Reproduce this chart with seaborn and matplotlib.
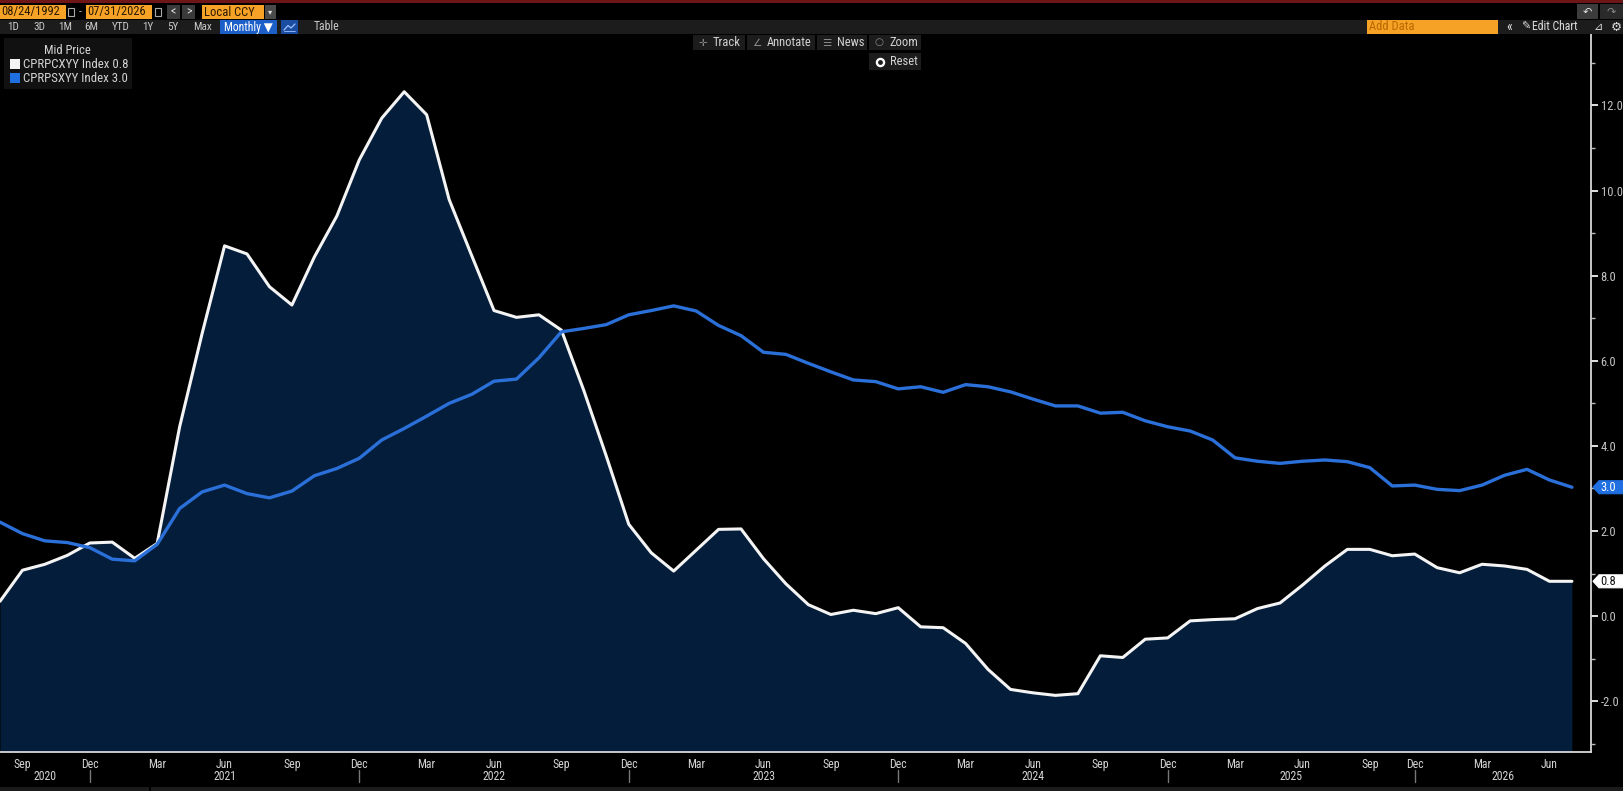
import matplotlib
matplotlib.use("Agg")
import numpy as np
import pandas as pd
import seaborn as sns
import matplotlib.pyplot as plt
import matplotlib.transforms as mtransforms
from matplotlib.patches import Rectangle, Polygon
from matplotlib import font_manager

# monthly prints Aug 2020 .. Jul 2026, Oct 2025 has no print
months = [d for d in pd.date_range("2020-08-01", "2026-07-01", freq="MS")
          if d != pd.Timestamp("2025-10-01")]

cprpcxyy = [0.35, 1.08, 1.22, 1.43, 1.72, 1.74, 1.36, 1.71, 4.45, 6.64,
            8.70, 8.51, 7.74, 7.31, 8.44, 9.40, 10.72, 11.70, 12.32, 11.78,
            9.79, 8.48, 7.18, 7.02, 7.08, 6.72, 5.30, 3.76, 2.16, 1.49,
            1.06, 1.55, 2.04, 2.05, 1.35, 0.76, 0.27, 0.04, 0.14, 0.06,
            0.20, -0.25, -0.27, -0.64, -1.25, -1.72, -1.80, -1.86, -1.82, -0.93,
            -0.97, -0.54, -0.51, -0.11, -0.08, -0.06, 0.18, 0.31, 0.73, 1.18,
            1.57, 1.57, 1.42, 1.46, 1.14, 1.02, 1.22, 1.18, 1.10, 0.82,
            0.82]

cprpsxyy = [2.21, 1.94, 1.77, 1.73, 1.61, 1.34, 1.30, 1.69, 2.53, 2.92,
            3.08, 2.88, 2.78, 2.94, 3.30, 3.47, 3.71, 4.14, 4.41, 4.70,
            5.00, 5.21, 5.52, 5.57, 6.07, 6.68, 6.76, 6.85, 7.08, 7.18,
            7.29, 7.17, 6.83, 6.59, 6.20, 6.15, 5.94, 5.74, 5.55, 5.51,
            5.34, 5.39, 5.26, 5.44, 5.39, 5.27, 5.10, 4.94, 4.94, 4.77,
            4.79, 4.59, 4.45, 4.35, 4.14, 3.72, 3.64, 3.59, 3.64, 3.67,
            3.63, 3.49, 3.06, 3.08, 2.98, 2.95, 3.08, 3.31, 3.45, 3.20,
            3.03]

legend_names = ["CPRPCXYY Index", "CPRPSXYY Index"]
y_ticks = [-2.0, 0.0, 2.0, 4.0, 6.0, 8.0, 10.0, 12.0]

WHITE = "#f4f4f4"
BLUE = "#2a70d8"
NAVY = "#031d3a"
ORANGE = "#f5a226"

df = pd.DataFrame({"pos": np.arange(len(months)), "date": months,
                   "pc": cprpcxyy, "ps": cprpsxyy})

sns.set_style("dark", {"axes.facecolor": "black", "figure.facecolor": "black"})
installed = {f.name for f in font_manager.fontManager.ttflist}
narrow = next((n for n in ["Liberation Sans Narrow", "Roboto Condensed", "Liberation Sans"]
               if n in installed), "DejaVu Sans")
plt.rcParams["font.family"] = [narrow, "DejaVu Sans"]

W, H = 1624, 791
fig = plt.figure(figsize=(W / 100, H / 100), dpi=100, facecolor="black")
ax_top, ax_bot, ax_right = 33, 752, 1591
ax = fig.add_axes([0, 1 - ax_bot / H, ax_right / W, (ax_bot - ax_top) / H])
ax.set_facecolor("black")

ymin, ymax = -3.19, 13.70
ax.set_xlim(0.28, 70.85)
ax.set_ylim(ymin, ymax)

ax.fill_between(df["pos"], df["pc"], ymin, color=NAVY, lw=0, zorder=1)
sns.lineplot(data=df, x="pos", y="pc", color=WHITE, linewidth=2.2, ax=ax, zorder=3)
sns.lineplot(data=df, x="pos", y="ps", color=BLUE, linewidth=2.4, ax=ax, zorder=4)
ax.set_xlabel("")
ax.set_ylabel("")
ax.grid(False)

for s in ["top", "left"]:
    ax.spines[s].set_visible(False)
for s in ["bottom", "right"]:
    ax.spines[s].set_visible(True)
    ax.spines[s].set_color("#d8d8d8")
    ax.spines[s].set_linewidth(1.3)

# y axis on the right
ax.yaxis.tick_right()
ax.set_yticks(y_ticks)
ax.set_yticklabels([f"{v:.1f}" for v in y_ticks])
ax.set_yticks(np.arange(-3, 14, 2), minor=True)
ax.tick_params(axis="y", which="major", length=5, width=1.4, color="#e0e0e0",
               labelcolor="#c4c4c4", labelsize=9, pad=2)
ax.tick_params(axis="y", which="minor", length=3, width=1, color="#bbbbbb")

# x axis: month labels every quarter, minor tick at each print
lab_pos = [i for i, d in enumerate(months) if d.month in (3, 6, 9, 12)]
ax.set_xticks(lab_pos)
ax.set_xticklabels([months[i].strftime("%b") for i in lab_pos])
ax.set_xticks(df["pos"], minor=True)
ax.tick_params(axis="x", which="major", direction="out", length=3.5, width=1,
               color="#d0d0d0", labelcolor="#d4d4d4", labelsize=8.5, pad=1)
ax.tick_params(axis="x", which="minor", direction="out", length=3.5, width=1,
               color="#c0c0c0")

# year row with separators at December
trans = mtransforms.blended_transform_factory(ax.transData, ax.transAxes)
h_ax = ax_bot - ax_top
seps = [i for i, d in enumerate(months) if d.month == 12]
bounds = [ax.get_xlim()[0]] + seps + [ax.get_xlim()[1]]
years = list(range(months[0].year, months[-1].year + 1))
for k, yr in enumerate(years):
    xc = (bounds[k] + bounds[k + 1]) / 2
    ax.text(xc, -(776 - ax_bot) / h_ax, str(yr), transform=trans, ha="center",
            va="center", color="#d4d4d4", fontsize=8.5, clip_on=False)
for sx in seps:
    ax.plot([sx, sx], [-(770 - ax_bot) / h_ax, -(782 - ax_bot) / h_ax],
            transform=trans, color="#777777", lw=1, clip_on=False)

# overlay in pixel coordinates for the terminal chrome
ui = fig.add_axes([0, 0, 1, 1])
ui.set_xlim(0, W)
ui.set_ylim(H, 0)
ui.axis("off")
ui.patch.set_alpha(0)


def box(x0, y0, x1, y1, fc, ec="none", lw=0):
    ui.add_patch(Rectangle((x0, y0), x1 - x0, y1 - y0, fc=fc, ec=ec, lw=lw))


def label(x, y, s, color="#cfcfcf", size=8, ha="left", **kw):
    ui.text(x, y, s, color=color, fontsize=size, ha=ha, va="center", **kw)


# top red rule
box(0, 0, W, 2.5, "#6e1518")

# row 1: dates and currency
box(0, 5, 66, 19, ORANGE)
label(1, 12, "08/24/1992", color="#2a1800", size=9)
box(68, 8, 74, 16, "none", ec="#aaaaaa", lw=0.8)
label(79, 12, "-", color="#cccccc", size=8)
box(86, 5, 152, 19, ORANGE)
label(87, 12, "07/31/2026", color="#2a1800", size=9)
box(155, 8, 161, 16, "none", ec="#aaaaaa", lw=0.8)
box(167, 5, 180, 19, "#3a3a3a")
label(173.5, 12, "<", color="#dddddd", size=8.5, ha="center")
box(182, 5, 195, 19, "#3a3a3a")
label(188.5, 12, ">", color="#dddddd", size=8.5, ha="center")
box(202, 5, 264, 19, ORANGE)
label(204, 12, "Local CCY", color="#2a1800", size=9)
box(265, 5, 276, 19, "#4a4a4a")
label(270.5, 12, "▾", color="#dddddd", size=6, ha="center")
box(1577, 4, 1598, 19, "#3c3c3c")
label(1587.5, 12, "↶", color="#e0e0e0", size=8, ha="center")
box(1600, 4, 1624, 19, "#2a2a2a")
label(1611, 12, "↷", color="#888888", size=8, ha="center")

# row 2: range buttons
box(0, 20, W, 33.5, "#1c1c1c")
for s, xc in zip(["1D", "3D", "1M", "6M", "YTD", "1Y", "5Y", "Max"],
                 [13.5, 39.5, 65, 91, 120.5, 148, 173, 203]):
    label(xc, 27, s, color="#c8c8c8", size=8, ha="center")
box(220, 20, 277, 33.5, "#1d5fc9")
label(248.5, 27, "Monthly ▼", color="white", size=8.5, ha="center")
box(281, 20, 298, 33.5, "#1b4da3")
ui.plot([284, 288, 291, 295], [30, 25.5, 28, 24], color="#9fc2ff", lw=0.9)
ui.plot([284, 295], [31, 31], color="#9fc2ff", lw=0.6)
label(327, 27, "Table", color="#c8c8c8", size=8.5, ha="center")
box(1367, 20, 1498, 33.5, ORANGE)
label(1369, 27, "Add Data", color="#b86800", size=9)
label(1506, 27, "«", color="#dddddd", size=10)
label(1521, 27, "✎", color="#dddddd", size=8)
label(1532, 27, "Edit Chart", color="#dddddd", size=8.5)
label(1593, 27, "⊿", color="#dddddd", size=8)
label(1611, 27, "⚙", color="#dddddd", size=9)

# legend box
box(4, 38, 132, 89, "#111111")
label(67, 50, "Mid Price", color="#d4d4d4", size=9, ha="center")
box(10, 58.5, 20, 68.5, WHITE)
label(23, 64, f"{legend_names[0]} {cprpcxyy[-1]:.1f}", color="#d4d4d4", size=9.3)
box(10, 72.5, 20, 82.5, "#1f6fe0")
label(23, 78, f"{legend_names[1]} {cprpsxyy[-1]:.1f}", color="#d4d4d4", size=9.3)

# chart tools
for x0, x1, icon, s in [(693, 745, "✛", "Track"), (747, 815, "∠", "Annotate"),
                        (817, 867, "☰", "News"), (869, 921, "○", "Zoom")]:
    box(x0, 34.5, x1, 50, "#1c1c1c")
    label(x0 + 5, 42.5, icon, color="#8a8a8a", size=7.5)
    label(x0 + 20, 42.5, s, color="#d2d2d2", size=9)
box(869, 53, 921, 70, "#1c1c1c")
ui.scatter([880], [61.5], s=34, color="white", zorder=5)
ui.scatter([880], [61.5], s=6, color="#1c1c1c", zorder=6)
label(890, 61.5, "Reset", color="#d2d2d2", size=9)


# last value tags on the right axis
def tag(value, fc, tc, ec):
    yp = H - ax.transData.transform((0, value))[1]
    pts = [(1593, yp), (1599, yp - 6.5), (1624, yp - 6.5), (1624, yp + 6.5), (1599, yp + 6.5)]
    ui.add_patch(Polygon(pts, closed=True, fc=fc, ec=ec, lw=0.8, zorder=7))
    label(1600, yp, f"{value:.1f}", color=tc, size=9, zorder=8)


tag(cprpsxyy[-1], "#1f6fe0", "white", "#1f6fe0")
tag(cprpcxyy[-1], "white", "#111111", "white")

# bottom status strip
box(0, 787, 149, H, "#1a1a1a")
box(151, 787, W, H, "#1c1c1c")

fig.savefig("out.png", dpi=100, facecolor="black")
